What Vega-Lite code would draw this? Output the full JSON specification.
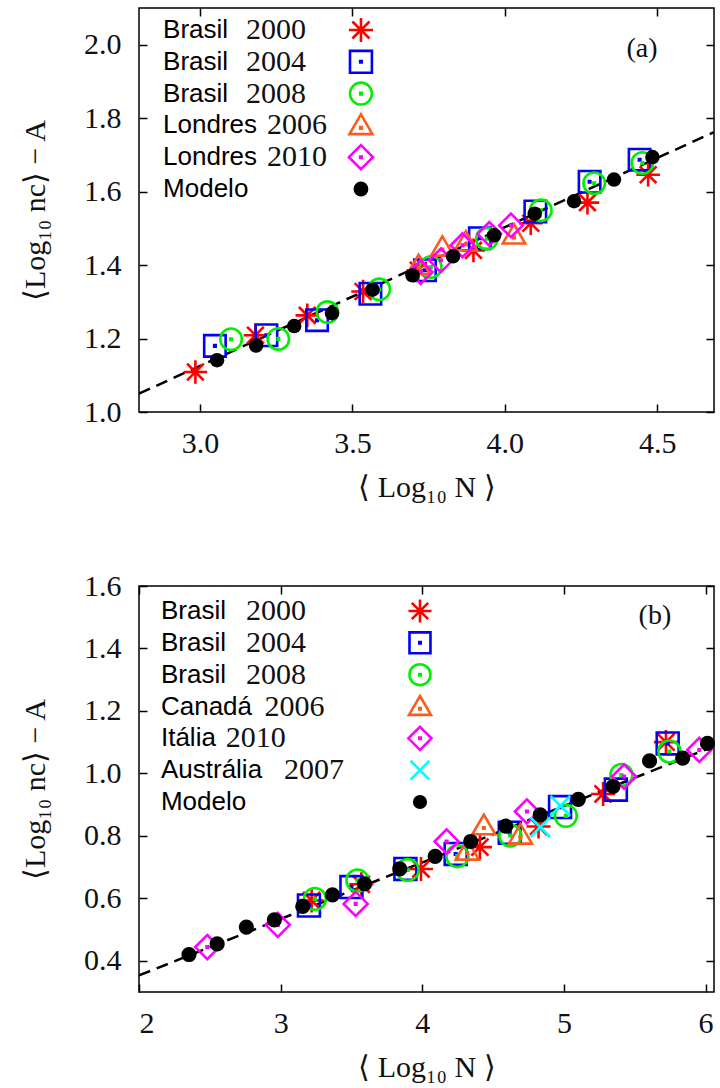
{
  "$schema": "https://vega.github.io/schema/vega-lite/v6.json",
  "background": "white",
  "padding": {"left": 19, "top": 6, "right": 0, "bottom": 0},
  "spacing": 67,
  "datasets": {
    "a": [
      {"series": "Brasil 2000", "x": 2.985, "y": 1.109},
      {"series": "Brasil 2000", "x": 3.182, "y": 1.209},
      {"series": "Brasil 2000", "x": 3.352, "y": 1.263},
      {"series": "Brasil 2000", "x": 3.535, "y": 1.328},
      {"series": "Brasil 2000", "x": 3.716, "y": 1.386},
      {"series": "Brasil 2000", "x": 3.897, "y": 1.440},
      {"series": "Brasil 2000", "x": 4.085, "y": 1.514},
      {"series": "Brasil 2000", "x": 4.271, "y": 1.570},
      {"series": "Brasil 2000", "x": 4.470, "y": 1.646},
      {"series": "Brasil 2004", "x": 3.049, "y": 1.180},
      {"series": "Brasil 2004", "x": 3.218, "y": 1.209},
      {"series": "Brasil 2004", "x": 3.384, "y": 1.250},
      {"series": "Brasil 2004", "x": 3.559, "y": 1.322},
      {"series": "Brasil 2004", "x": 3.738, "y": 1.386},
      {"series": "Brasil 2004", "x": 3.918, "y": 1.473},
      {"series": "Brasil 2004", "x": 4.100, "y": 1.546},
      {"series": "Brasil 2004", "x": 4.278, "y": 1.627},
      {"series": "Brasil 2004", "x": 4.442, "y": 1.687},
      {"series": "Brasil 2008", "x": 3.102, "y": 1.198},
      {"series": "Brasil 2008", "x": 3.257, "y": 1.199},
      {"series": "Brasil 2008", "x": 3.418, "y": 1.272},
      {"series": "Brasil 2008", "x": 3.588, "y": 1.334},
      {"series": "Brasil 2008", "x": 3.757, "y": 1.395},
      {"series": "Brasil 2008", "x": 3.941, "y": 1.472},
      {"series": "Brasil 2008", "x": 4.118, "y": 1.549},
      {"series": "Brasil 2008", "x": 4.293, "y": 1.623},
      {"series": "Brasil 2008", "x": 4.451, "y": 1.678},
      {"series": "Londres 2006", "x": 3.717, "y": 1.399},
      {"series": "Londres 2006", "x": 3.795, "y": 1.449},
      {"series": "Londres 2006", "x": 3.872, "y": 1.463},
      {"series": "Londres 2006", "x": 4.030, "y": 1.482},
      {"series": "Londres 2010", "x": 3.724, "y": 1.381},
      {"series": "Londres 2010", "x": 3.790, "y": 1.413},
      {"series": "Londres 2010", "x": 3.861, "y": 1.454},
      {"series": "Londres 2010", "x": 3.949, "y": 1.485},
      {"series": "Londres 2010", "x": 4.020, "y": 1.508},
      {"series": "Modelo", "x": 3.056, "y": 1.141},
      {"series": "Modelo", "x": 3.184, "y": 1.181},
      {"series": "Modelo", "x": 3.309, "y": 1.234},
      {"series": "Modelo", "x": 3.433, "y": 1.269},
      {"series": "Modelo", "x": 3.566, "y": 1.333},
      {"series": "Modelo", "x": 3.697, "y": 1.372},
      {"series": "Modelo", "x": 3.830, "y": 1.424},
      {"series": "Modelo", "x": 3.965, "y": 1.481},
      {"series": "Modelo", "x": 4.098, "y": 1.540},
      {"series": "Modelo", "x": 4.227, "y": 1.574},
      {"series": "Modelo", "x": 4.358, "y": 1.633},
      {"series": "Modelo", "x": 4.484, "y": 1.694}
    ],
    "fit_a": [
      {"x": 2.8, "y": 1.050},
      {"x": 4.686, "y": 1.762}
    ],
    "leg_a": [
      {"series": "Brasil 2000", "country": "Brasil", "year": "2000"},
      {"series": "Brasil 2004", "country": "Brasil", "year": "2004"},
      {"series": "Brasil 2008", "country": "Brasil", "year": "2008"},
      {"series": "Londres 2006", "country": "Londres", "year": "2006"},
      {"series": "Londres 2010", "country": "Londres", "year": "2010"},
      {"series": "Modelo", "country": "Modelo", "year": ""}
    ],
    "b": [
      {"series": "Brasil 2000", "x": 3.219, "y": 0.593},
      {"series": "Brasil 2000", "x": 3.570, "y": 0.645},
      {"series": "Brasil 2000", "x": 3.991, "y": 0.694},
      {"series": "Brasil 2000", "x": 4.407, "y": 0.764},
      {"series": "Brasil 2000", "x": 4.821, "y": 0.830},
      {"series": "Brasil 2000", "x": 5.277, "y": 0.934},
      {"series": "Brasil 2000", "x": 5.721, "y": 1.100},
      {"series": "Brasil 2004", "x": 3.200, "y": 0.577},
      {"series": "Brasil 2004", "x": 3.500, "y": 0.636},
      {"series": "Brasil 2004", "x": 3.881, "y": 0.694},
      {"series": "Brasil 2004", "x": 4.236, "y": 0.742},
      {"series": "Brasil 2004", "x": 4.618, "y": 0.810},
      {"series": "Brasil 2004", "x": 4.973, "y": 0.892},
      {"series": "Brasil 2004", "x": 5.367, "y": 0.948},
      {"series": "Brasil 2004", "x": 5.733, "y": 1.096},
      {"series": "Brasil 2008", "x": 3.242, "y": 0.598},
      {"series": "Brasil 2008", "x": 3.542, "y": 0.657},
      {"series": "Brasil 2008", "x": 3.897, "y": 0.691},
      {"series": "Brasil 2008", "x": 4.248, "y": 0.735},
      {"series": "Brasil 2008", "x": 4.622, "y": 0.801},
      {"series": "Brasil 2008", "x": 5.014, "y": 0.864},
      {"series": "Brasil 2008", "x": 5.406, "y": 0.995},
      {"series": "Brasil 2008", "x": 5.745, "y": 1.070},
      {"series": "Canadá 2006", "x": 4.318, "y": 0.752},
      {"series": "Canadá 2006", "x": 4.435, "y": 0.833},
      {"series": "Canadá 2006", "x": 4.693, "y": 0.803},
      {"series": "Itália 2010", "x": 2.482, "y": 0.444},
      {"series": "Itália 2010", "x": 2.980, "y": 0.515},
      {"series": "Itália 2010", "x": 3.530, "y": 0.582},
      {"series": "Itália 2010", "x": 4.172, "y": 0.782},
      {"series": "Itália 2010", "x": 4.739, "y": 0.878},
      {"series": "Itália 2010", "x": 5.425, "y": 0.990},
      {"series": "Itália 2010", "x": 5.956, "y": 1.075},
      {"series": "Austrália 2007", "x": 4.833, "y": 0.828},
      {"series": "Austrália 2007", "x": 4.975, "y": 0.896},
      {"series": "Modelo", "x": 2.353, "y": 0.420},
      {"series": "Modelo", "x": 2.552, "y": 0.454},
      {"series": "Modelo", "x": 2.758, "y": 0.508},
      {"series": "Modelo", "x": 2.956, "y": 0.531},
      {"series": "Modelo", "x": 3.156, "y": 0.574},
      {"series": "Modelo", "x": 3.366, "y": 0.611},
      {"series": "Modelo", "x": 3.593, "y": 0.646},
      {"series": "Modelo", "x": 3.841, "y": 0.694},
      {"series": "Modelo", "x": 4.091, "y": 0.734},
      {"series": "Modelo", "x": 4.342, "y": 0.782},
      {"series": "Modelo", "x": 4.589, "y": 0.831},
      {"series": "Modelo", "x": 4.833, "y": 0.867},
      {"series": "Modelo", "x": 5.102, "y": 0.917},
      {"series": "Modelo", "x": 5.347, "y": 0.958},
      {"series": "Modelo", "x": 5.605, "y": 1.040},
      {"series": "Modelo", "x": 5.839, "y": 1.049},
      {"series": "Modelo", "x": 6.014, "y": 1.096}
    ],
    "fit_b": [
      {"x": 2.0, "y": 0.353},
      {"x": 6.06, "y": 1.087}
    ],
    "leg_b": [
      {"series": "Brasil 2000", "country": "Brasil", "year": "2000"},
      {"series": "Brasil 2004", "country": "Brasil", "year": "2004"},
      {"series": "Brasil 2008", "country": "Brasil", "year": "2008"},
      {"series": "Canadá 2006", "country": "Canadá", "year": "2006"},
      {"series": "Itália 2010", "country": "Itália", "year": "2010"},
      {"series": "Austrália 2007", "country": "Austrália", "year": "2007"},
      {"series": "Modelo", "country": "Modelo", "year": ""}
    ]
  },
  "vconcat": [
    {
      "width": 575,
      "height": 404,
      "layer": [
        {
          "layer": [
            {
              "data": {"name": "fit_a"},
              "mark": {"type": "line", "color": "black", "strokeWidth": 2.5, "strokeDash": [12, 7], "clip": true},
              "encoding": {
                "x": {"field": "x", "type": "quantitative", "scale": {"domain": [2.8, 4.686], "nice": false, "zero": false},
                      "axis": {"orient": "bottom", "values": [3.0, 3.5, 4.0, 4.5], "format": ".1f", "title": "⟨ Log₁₀ N ⟩"}},
                "y": {"field": "y", "type": "quantitative", "scale": {"domain": [1.0, 2.1], "nice": false, "zero": false},
                      "axis": {"orient": "left", "values": [1.0, 1.2, 1.4, 1.6, 1.8, 2.0], "format": ".1f", "title": "⟨Log₁₀ nc⟩ − A"}}
              }
            },
            {
              "data": {"name": "a"},
              "transform": [{"filter": "datum.series !== 'Modelo'"}],
              "mark": {"type": "point", "filled": false, "size": 460, "strokeWidth": 2.6, "opacity": 1},
              "encoding": {
                "x": {"field": "x", "type": "quantitative", "axis": {"orient": "top", "values": [3.0, 3.5, 4.0, 4.5], "labels": false, "title": null}},
                "y": {"field": "y", "type": "quantitative", "axis": {"orient": "right", "values": [1.0, 1.2, 1.4, 1.6, 1.8, 2.0], "labels": false, "title": null}},
                "shape": {"field": "series", "type": "nominal", "legend": null,
                  "scale": {"domain": ["Brasil 2000", "Brasil 2004", "Brasil 2008", "Londres 2006", "Londres 2010"],
                            "range": ["M-1.1,0H1.1M0,-1.1V1.1M-0.78,-0.78L0.78,0.78M-0.78,0.78L0.78,-0.78",
                                      "M-1,-1H1V1H-1ZM-0.07,-0.07H0.07V0.07H-0.07Z",
                                      "M1,0A1,1,0,1,1,-1,0A1,1,0,1,1,1,0ZM-0.07,-0.07H0.07V0.07H-0.07Z",
                                      "M0,-1L1.05,0.8H-1.05ZM-0.07,0.15H0.07V0.29H-0.07Z",
                                      "M0,-1.1L1.1,0L0,1.1L-1.1,0ZM-0.07,-0.07H0.07V0.07H-0.07Z"]}},
                "color": {"field": "series", "type": "nominal", "legend": null,
                  "scale": {"domain": ["Brasil 2000", "Brasil 2004", "Brasil 2008", "Londres 2006", "Londres 2010"],
                            "range": ["#ff0000", "#0000ff", "#00ee00", "#ff5a1e", "#ff00ff"]}}
              }
            },
            {
              "data": {"name": "a"},
              "transform": [{"filter": "datum.series === 'Modelo'"}],
              "mark": {"type": "circle", "color": "black", "size": 210, "opacity": 1},
              "encoding": {
                "x": {"field": "x", "type": "quantitative", "axis": null},
                "y": {"field": "y", "type": "quantitative", "axis": null}
              }
            },
            {
              "data": {"values": [{"label": "(a)"}]},
              "mark": {"type": "text", "font": "Liberation Serif", "fontSize": 28, "color": "#111", "align": "center", "baseline": "middle"},
              "encoding": {
                "x": {"datum": 4.45, "type": "quantitative", "axis": null},
                "y": {"datum": 1.988, "type": "quantitative", "axis": null},
                "text": {"field": "label"}
              }
            }
          ],
          "resolve": {"axis": {"x": "independent", "y": "independent"}}
        },
        {
          "data": {"name": "leg_a"},
          "mark": {"type": "text", "font": "Liberation Sans", "fontSize": 26, "color": "black", "align": "left", "baseline": "middle"},
          "encoding": {
            "x": {"datum": 2.879, "type": "quantitative", "axis": null},
            "y": {"field": "series", "type": "nominal", "axis": null, "scale": {"domain": ["Brasil 2000", "Brasil 2004", "Brasil 2008", "Londres 2006", "Londres 2010", "Modelo"], "range": [22, 181], "padding": 0}},
            "text": {"field": "country"}
          }
        },
        {
          "data": {"name": "leg_a"},
          "transform": [{"filter": "datum.country === 'Brasil'"}],
          "mark": {"type": "text", "font": "Liberation Serif", "fontSize": 30, "color": "#111", "align": "left", "baseline": "middle"},
          "encoding": {
            "x": {"datum": 3.151, "type": "quantitative", "axis": null},
            "y": {"field": "series", "type": "nominal", "axis": null, "scale": {"domain": ["Brasil 2000", "Brasil 2004", "Brasil 2008", "Londres 2006", "Londres 2010", "Modelo"], "range": [22, 181], "padding": 0}},
            "text": {"field": "year"}
          }
        },
        {
          "data": {"name": "leg_a"},
          "transform": [{"filter": "datum.country === 'Londres'"}],
          "mark": {"type": "text", "font": "Liberation Serif", "fontSize": 30, "color": "#111", "align": "left", "baseline": "middle"},
          "encoding": {
            "x": {"datum": 3.220, "type": "quantitative", "axis": null},
            "y": {"field": "series", "type": "nominal", "axis": null, "scale": {"domain": ["Brasil 2000", "Brasil 2004", "Brasil 2008", "Londres 2006", "Londres 2010", "Modelo"], "range": [22, 181], "padding": 0}},
            "text": {"field": "year"}
          }
        },
        {
          "data": {"name": "leg_a"},
          "transform": [{"filter": "datum.series !== 'Modelo'"}],
          "mark": {"type": "point", "filled": false, "size": 480, "strokeWidth": 2.6, "opacity": 1},
          "encoding": {
            "x": {"datum": 3.528, "type": "quantitative", "axis": null},
            "y": {"field": "series", "type": "nominal", "axis": null, "scale": {"domain": ["Brasil 2000", "Brasil 2004", "Brasil 2008", "Londres 2006", "Londres 2010", "Modelo"], "range": [22, 181], "padding": 0}},
            "shape": {"field": "series", "type": "nominal", "legend": null},
            "color": {"field": "series", "type": "nominal", "legend": null}
          }
        },
        {
          "data": {"name": "leg_a"},
          "transform": [{"filter": "datum.series === 'Modelo'"}],
          "mark": {"type": "circle", "color": "black", "size": 220, "opacity": 1},
          "encoding": {
            "x": {"datum": 3.528, "type": "quantitative", "axis": null},
            "y": {"field": "series", "type": "nominal", "axis": null, "scale": {"domain": ["Brasil 2000", "Brasil 2004", "Brasil 2008", "Londres 2006", "Londres 2010", "Modelo"], "range": [22, 181], "padding": 0}}
          }
        }
      ],
      "resolve": {"scale": {"y": "independent"}, "axis": {"x": "independent", "y": "independent"}}
    },
    {
      "width": 575,
      "height": 406,
      "layer": [
        {
          "layer": [
            {
              "data": {"name": "fit_b"},
              "mark": {"type": "line", "color": "black", "strokeWidth": 2.5, "strokeDash": [12, 7], "clip": true},
              "encoding": {
                "x": {"field": "x", "type": "quantitative", "scale": {"domain": [2.0, 6.06], "nice": false, "zero": false},
                      "axis": {"orient": "bottom", "values": [2, 3, 4, 5, 6], "format": "d", "title": "⟨ Log₁₀ N ⟩"}},
                "y": {"field": "y", "type": "quantitative", "scale": {"domain": [0.3, 1.6], "nice": false, "zero": false},
                      "axis": {"orient": "left", "values": [0.4, 0.6, 0.8, 1.0, 1.2, 1.4, 1.6], "format": ".1f", "title": "⟨Log₁₀ nc⟩ − A"}}
              }
            },
            {
              "data": {"name": "b"},
              "transform": [{"filter": "datum.series !== 'Modelo'"}],
              "mark": {"type": "point", "filled": false, "size": 480, "strokeWidth": 2.6, "opacity": 1},
              "encoding": {
                "x": {"field": "x", "type": "quantitative", "axis": {"orient": "top", "values": [2, 3, 4, 5, 6], "labels": false, "title": null}},
                "y": {"field": "y", "type": "quantitative", "axis": {"orient": "right", "values": [0.4, 0.6, 0.8, 1.0, 1.2, 1.4, 1.6], "labels": false, "title": null}},
                "shape": {"field": "series", "type": "nominal", "legend": null,
                  "scale": {"domain": ["Brasil 2000", "Brasil 2004", "Brasil 2008", "Canadá 2006", "Itália 2010", "Austrália 2007"],
                            "range": ["M-1.1,0H1.1M0,-1.1V1.1M-0.78,-0.78L0.78,0.78M-0.78,0.78L0.78,-0.78",
                                      "M-1,-1H1V1H-1ZM-0.07,-0.07H0.07V0.07H-0.07Z",
                                      "M1,0A1,1,0,1,1,-1,0A1,1,0,1,1,1,0ZM-0.07,-0.07H0.07V0.07H-0.07Z",
                                      "M0,-1L1.05,0.8H-1.05ZM-0.07,0.15H0.07V0.29H-0.07Z",
                                      "M0,-1.1L1.1,0L0,1.1L-1.1,0ZM-0.07,-0.07H0.07V0.07H-0.07Z",
                                      "M-0.9,-0.9L0.9,0.9M-0.9,0.9L0.9,-0.9"]}},
                "color": {"field": "series", "type": "nominal", "legend": null,
                  "scale": {"domain": ["Brasil 2000", "Brasil 2004", "Brasil 2008", "Canadá 2006", "Itália 2010", "Austrália 2007"],
                            "range": ["#ff0000", "#0000ff", "#00ee00", "#ff5a1e", "#ff00ff", "#00ffff"]}}
              }
            },
            {
              "data": {"name": "b"},
              "transform": [{"filter": "datum.series === 'Modelo'"}],
              "mark": {"type": "circle", "color": "black", "size": 230, "opacity": 1},
              "encoding": {
                "x": {"field": "x", "type": "quantitative", "axis": null},
                "y": {"field": "y", "type": "quantitative", "axis": null}
              }
            },
            {
              "data": {"values": [{"label": "(b)"}]},
              "mark": {"type": "text", "font": "Liberation Serif", "fontSize": 28, "color": "#111", "align": "center", "baseline": "middle"},
              "encoding": {
                "x": {"datum": 5.643, "type": "quantitative", "axis": null},
                "y": {"datum": 1.504, "type": "quantitative", "axis": null},
                "text": {"field": "label"}
              }
            }
          ],
          "resolve": {"axis": {"x": "independent", "y": "independent"}}
        },
        {
          "data": {"name": "leg_b"},
          "mark": {"type": "text", "font": "Liberation Sans", "fontSize": 26, "color": "black", "align": "left", "baseline": "middle"},
          "encoding": {
            "x": {"datum": 2.155, "type": "quantitative", "axis": null},
            "y": {"field": "series", "type": "nominal", "axis": null, "scale": {"domain": ["Brasil 2000", "Brasil 2004", "Brasil 2008", "Canadá 2006", "Itália 2010", "Austrália 2007", "Modelo"], "range": [25, 216], "padding": 0}},
            "text": {"field": "country"}
          }
        },
        {
          "data": {"name": "leg_b"},
          "transform": [{"filter": "datum.country === 'Brasil'"}],
          "mark": {"type": "text", "font": "Liberation Serif", "fontSize": 30, "color": "#111", "align": "left", "baseline": "middle"},
          "encoding": {
            "x": {"datum": 2.755, "type": "quantitative", "axis": null},
            "y": {"field": "series", "type": "nominal", "axis": null, "scale": {"domain": ["Brasil 2000", "Brasil 2004", "Brasil 2008", "Canadá 2006", "Itália 2010", "Austrália 2007", "Modelo"], "range": [25, 216], "padding": 0}},
            "text": {"field": "year"}
          }
        },
        {
          "data": {"name": "leg_b"},
          "transform": [{"filter": "datum.country === 'Canadá'"}],
          "mark": {"type": "text", "font": "Liberation Serif", "fontSize": 30, "color": "#111", "align": "left", "baseline": "middle"},
          "encoding": {
            "x": {"datum": 2.887, "type": "quantitative", "axis": null},
            "y": {"field": "series", "type": "nominal", "axis": null, "scale": {"domain": ["Brasil 2000", "Brasil 2004", "Brasil 2008", "Canadá 2006", "Itália 2010", "Austrália 2007", "Modelo"], "range": [25, 216], "padding": 0}},
            "text": {"field": "year"}
          }
        },
        {
          "data": {"name": "leg_b"},
          "transform": [{"filter": "datum.country === 'Itália'"}],
          "mark": {"type": "text", "font": "Liberation Serif", "fontSize": 30, "color": "#111", "align": "left", "baseline": "middle"},
          "encoding": {
            "x": {"datum": 2.612, "type": "quantitative", "axis": null},
            "y": {"field": "series", "type": "nominal", "axis": null, "scale": {"domain": ["Brasil 2000", "Brasil 2004", "Brasil 2008", "Canadá 2006", "Itália 2010", "Austrália 2007", "Modelo"], "range": [25, 216], "padding": 0}},
            "text": {"field": "year"}
          }
        },
        {
          "data": {"name": "leg_b"},
          "transform": [{"filter": "datum.country === 'Austrália'"}],
          "mark": {"type": "text", "font": "Liberation Serif", "fontSize": 30, "color": "#111", "align": "left", "baseline": "middle"},
          "encoding": {
            "x": {"datum": 3.024, "type": "quantitative", "axis": null},
            "y": {"field": "series", "type": "nominal", "axis": null, "scale": {"domain": ["Brasil 2000", "Brasil 2004", "Brasil 2008", "Canadá 2006", "Itália 2010", "Austrália 2007", "Modelo"], "range": [25, 216], "padding": 0}},
            "text": {"field": "year"}
          }
        },
        {
          "data": {"name": "leg_b"},
          "transform": [{"filter": "datum.series !== 'Modelo'"}],
          "mark": {"type": "point", "filled": false, "size": 440, "strokeWidth": 2.6, "opacity": 1},
          "encoding": {
            "x": {"datum": 3.984, "type": "quantitative", "axis": null},
            "y": {"field": "series", "type": "nominal", "axis": null, "scale": {"domain": ["Brasil 2000", "Brasil 2004", "Brasil 2008", "Canadá 2006", "Itália 2010", "Austrália 2007", "Modelo"], "range": [25, 216], "padding": 0}},
            "shape": {"field": "series", "type": "nominal", "legend": null},
            "color": {"field": "series", "type": "nominal", "legend": null}
          }
        },
        {
          "data": {"name": "leg_b"},
          "transform": [{"filter": "datum.series === 'Modelo'"}],
          "mark": {"type": "circle", "color": "black", "size": 200, "opacity": 1},
          "encoding": {
            "x": {"datum": 3.984, "type": "quantitative", "axis": null},
            "y": {"field": "series", "type": "nominal", "axis": null, "scale": {"domain": ["Brasil 2000", "Brasil 2004", "Brasil 2008", "Canadá 2006", "Itália 2010", "Austrália 2007", "Modelo"], "range": [25, 216], "padding": 0}}
          }
        }
      ],
      "resolve": {"scale": {"y": "independent"}, "axis": {"x": "independent", "y": "independent"}}
    }
  ],
  "resolve": {"scale": {"color": "independent", "shape": "independent"}},
  "config": {
    "view": {"stroke": "black", "strokeWidth": 1.5},
    "axis": {
      "grid": false, "domain": false, "tickSize": -8, "tickWidth": 1.5, "tickColor": "black",
      "labelFont": "Liberation Serif", "labelFontSize": 30, "labelColor": "#111",
      "titleFont": "Liberation Serif", "titleFontSize": 30, "titleFontWeight": "normal", "titleColor": "#111"
    },
    "axisX": {"labelPadding": 24, "titlePadding": 14},
    "axisY": {"labelPadding": 26, "titlePadding": 33}
  }
}
